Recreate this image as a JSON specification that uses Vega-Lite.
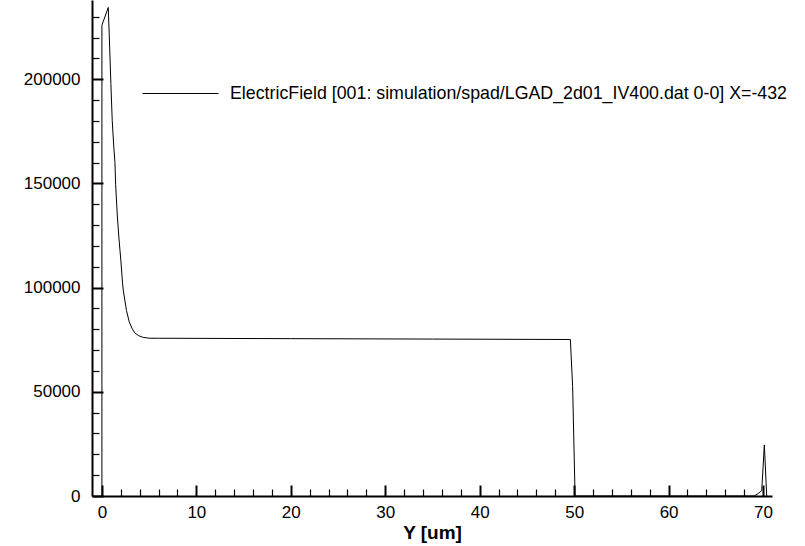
{
  "$schema": "https://vega.github.io/schema/vega-lite/v6.json",
  "width": 680,
  "height": 496,
  "autosize": "none",
  "padding": {"left": 92, "top": 0, "right": 33, "bottom": 50},
  "background": "white",
  "config": {"view": {"stroke": null}},
  "data": {
    "values": [
      {"y": 0, "E": 0},
      {"y": 0, "E": 225900},
      {"y": 0.67, "E": 234400},
      {"y": 0.77, "E": 221900},
      {"y": 0.95, "E": 197900},
      {"y": 1.09, "E": 180300},
      {"y": 1.25, "E": 168000},
      {"y": 1.38, "E": 160000},
      {"y": 1.45, "E": 149600},
      {"y": 1.62, "E": 135300},
      {"y": 1.8, "E": 123800},
      {"y": 2.01, "E": 112800},
      {"y": 2.19, "E": 101800},
      {"y": 2.26, "E": 98800},
      {"y": 2.6, "E": 89000},
      {"y": 2.89, "E": 83600},
      {"y": 3.2, "E": 80300},
      {"y": 3.49, "E": 78200},
      {"y": 3.9, "E": 76900},
      {"y": 4.37, "E": 76100},
      {"y": 5.08, "E": 75700},
      {"y": 6, "E": 75700},
      {"y": 20, "E": 75500},
      {"y": 35, "E": 75300},
      {"y": 49.6, "E": 75100},
      {"y": 49.84, "E": 52400},
      {"y": 50.1, "E": 0},
      {"y": 60, "E": 0},
      {"y": 69.05, "E": 0},
      {"y": 69.5, "E": 1200},
      {"y": 69.86, "E": 2540},
      {"y": 70.14, "E": 24500},
      {"y": 70.39, "E": 0}
    ]
  },
  "mark": {"type": "line", "strokeWidth": 1, "clip": true, "interpolate": "linear", "color": "black"},
  "encoding": {
    "x": {
      "field": "y", "type": "quantitative",
      "scale": {"domain": [-1.05, 70.95], "nice": false, "zero": false},
      "axis": {
        "orient": "bottom",
        "values": [0, 2, 4, 6, 8, 10, 12, 14, 16, 18, 20, 22, 24, 26, 28, 30, 32, 34, 36, 38, 40, 42, 44, 46, 48, 50, 52, 54, 56, 58, 60, 62, 64, 66, 68, 70],
        "format": "d",
        "labelExpr": "datum.value % 10 === 0 ? datum.label : ''",
        "title": "Y [um]",
        "titleFont": "Liberation Sans", "titleFontSize": 19, "titleFontWeight": "bold", "titleColor": "black",
        "titlePadding": 3,
        "labelFont": "Liberation Sans", "labelFontSize": 17, "labelColor": "black",
        "labelPadding": 19,
        "domain": true, "domainColor": "black", "domainWidth": 2,
        "ticks": true,
        "tickColor": "black",
        "tickWidth": {"condition": {"test": "datum.value % 10 === 0", "value": 2}, "value": 1.2},
        "tickSize": {"condition": {"test": "datum.value % 10 === 0", "value": -11}, "value": -7},
        "grid": false
      }
    },
    "y": {
      "field": "E", "type": "quantitative",
      "scale": {"domain": [0, 238000], "nice": false, "zero": true},
      "axis": {
        "orient": "left",
        "values": [0, 10000, 20000, 30000, 40000, 50000, 60000, 70000, 80000, 90000, 100000, 110000, 120000, 130000, 140000, 150000, 160000, 170000, 180000, 190000, 200000, 210000, 220000, 230000],
        "format": "d",
        "labelExpr": "datum.value % 50000 === 0 ? datum.label : ''",
        "title": null,
        "labelFont": "Liberation Sans", "labelFontSize": 17, "labelColor": "black",
        "labelPadding": 23,
        "domain": true, "domainColor": "black", "domainWidth": 2,
        "ticks": true,
        "tickColor": "black",
        "tickWidth": {"condition": {"test": "datum.value % 50000 === 0", "value": 2}, "value": 1.2},
        "tickSize": {"condition": {"test": "datum.value % 50000 === 0", "value": -11}, "value": -7},
        "grid": false
      }
    },
    "stroke": {
      "datum": "ElectricField [001: simulation/spad/LGAD_2d01_IV400.dat 0-0] X=-432",
      "type": "nominal",
      "scale": {"range": ["#000000"]},
      "legend": {
        "orient": "none", "legendX": 50, "legendY": 55,
        "title": null,
        "symbolType": "stroke", "symbolSize": 5776, "symbolStrokeWidth": 1,
        "labelFont": "Liberation Sans", "labelFontSize": 17.8, "labelColor": "black",
        "labelOffset": 11, "padding": 0, "labelLimit": 800
      }
    }
  }
}
